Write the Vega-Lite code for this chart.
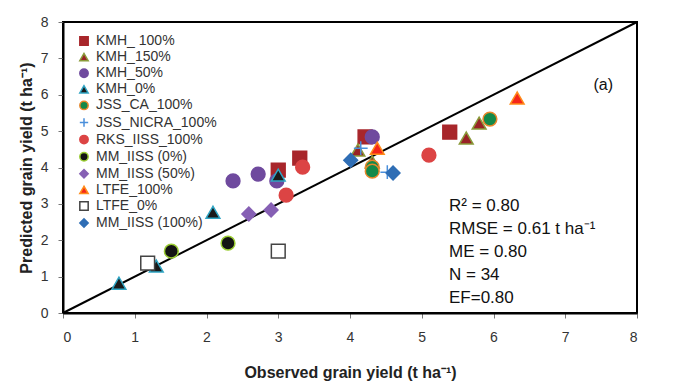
{
  "$schema": "https://vega.github.io/schema/vega-lite/v6.json",
  "width": 574,
  "height": 291,
  "autosize": {"type": "none"},
  "padding": {"left": 63, "top": 22, "right": 52, "bottom": 70},
  "background": "white",
  "config": {
    "font": "Liberation Sans",
    "view": {"stroke": "#000", "strokeWidth": 2},
    "axis": {"grid": false, "domainColor": "#000", "domainWidth": 2, "tickColor": "#777", "tickSize": 5, "labelFontSize": 14, "labelColor": "#333", "titleFontSize": 16, "titleFontWeight": "bold", "titleColor": "#222", "labelFont": "Liberation Sans", "titleFont": "Liberation Sans", "labelOverlap": false}
  },
  "datasets": {
    "pts": [
      {"series": "KMH_ 100%", "obs": 3.0, "pred": 3.93},
      {"series": "KMH_ 100%", "obs": 3.3, "pred": 4.26},
      {"series": "KMH_ 100%", "obs": 4.21, "pred": 4.84},
      {"series": "KMH_ 100%", "obs": 5.39, "pred": 4.97},
      {"series": "KMH_150%", "obs": 4.11, "pred": 4.48},
      {"series": "KMH_150%", "obs": 4.31, "pred": 4.15},
      {"series": "KMH_150%", "obs": 5.62, "pred": 4.81},
      {"series": "KMH_150%", "obs": 5.8, "pred": 5.22},
      {"series": "KMH_50%", "obs": 2.37, "pred": 3.63},
      {"series": "KMH_50%", "obs": 2.72, "pred": 3.82},
      {"series": "KMH_50%", "obs": 2.98, "pred": 3.63},
      {"series": "KMH_50%", "obs": 4.31, "pred": 4.84},
      {"series": "KMH_0%", "obs": 3.0, "pred": 3.79},
      {"series": "KMH_0%", "obs": 2.09, "pred": 2.77},
      {"series": "KMH_0%", "obs": 0.78, "pred": 0.82},
      {"series": "KMH_0%", "obs": 1.3, "pred": 1.29},
      {"series": "JSS_CA_100%", "obs": 4.31, "pred": 4.01},
      {"series": "JSS_CA_100%", "obs": 4.31, "pred": 3.9},
      {"series": "JSS_CA_100%", "obs": 5.95, "pred": 5.33},
      {"series": "JSS_NICRA_100%", "obs": 4.15, "pred": 4.53},
      {"series": "JSS_NICRA_100%", "obs": 4.52, "pred": 3.87},
      {"series": "RKS_IISS_100%", "obs": 3.34, "pred": 4.01},
      {"series": "RKS_IISS_100%", "obs": 3.11, "pred": 3.24},
      {"series": "RKS_IISS_100%", "obs": 5.1, "pred": 4.34},
      {"series": "MM_IISS (0%)", "obs": 1.51, "pred": 1.7},
      {"series": "MM_IISS (0%)", "obs": 2.3, "pred": 1.92},
      {"series": "MM_IISS (50%)", "obs": 2.59, "pred": 2.72},
      {"series": "MM_IISS (50%)", "obs": 2.9, "pred": 2.83},
      {"series": "LTFE_100%", "obs": 4.38, "pred": 4.53},
      {"series": "LTFE_100%", "obs": 6.33, "pred": 5.91},
      {"series": "LTFE_0%", "obs": 3.0, "pred": 1.7},
      {"series": "LTFE_0%", "obs": 1.18, "pred": 1.37},
      {"series": "MM_IISS (100%)", "obs": 4.01, "pred": 4.2},
      {"series": "MM_IISS (100%)", "obs": 4.6, "pred": 3.85}
    ],
    "line": [
      {"obs": 0, "pred": 0},
      {"obs": 8, "pred": 8}
    ]
  },
  "encoding": {
    "x": {"type": "quantitative", "scale": {"domain": [0, 8], "nice": false},
      "axis": {"values": [0, 1, 2, 3, 4, 5, 6, 7, 8], "labelOverlap": false, "format": "d", "title": "Observed grain yield (t ha⁻¹)", "labelPadding": 12, "titlePadding": 20}},
    "y": {"type": "quantitative", "scale": {"domain": [0, 8], "nice": false},
      "axis": {"values": [0, 1, 2, 3, 4, 5, 6, 7, 8], "labelOverlap": false, "labelBound": false, "format": "d", "title": "Predicted grain yield (t ha⁻¹)", "labelPadding": 10, "titlePadding": 6}}
  },
  "layer": [
    {
      "data": {"name": "line"},
      "mark": {"type": "line", "color": "#000", "strokeWidth": 2},
      "encoding": {
        "x": {"field": "obs", "type": "quantitative"},
        "y": {"field": "pred", "type": "quantitative"}
      }
    },
    {
      "data": {"name": "pts"},
      "mark": {"type": "point", "filled": false, "size": 190, "strokeWidth": 1.5, "opacity": 1},
      "encoding": {
        "x": {"field": "obs", "type": "quantitative"},
        "y": {"field": "pred", "type": "quantitative"},
        "shape": {
          "field": "series", "type": "nominal",
          "scale": {
            "domain": ["KMH_ 100%", "KMH_150%", "KMH_50%", "KMH_0%", "JSS_CA_100%", "JSS_NICRA_100%", "RKS_IISS_100%", "MM_IISS (0%)", "MM_IISS (50%)", "LTFE_100%", "LTFE_0%", "MM_IISS (100%)"],
            "range": ["square", "triangle-up", "circle", "triangle-up", "circle", "M -1 0 L 1 0 M 0 -1 L 0 1", "circle", "circle", "diamond", "triangle-up", "square", "diamond"]
          },
          "legend": {
            "title": null, "orient": "none", "legendX": 14, "legendY": 12, "padding": 0,
            "labelFontSize": 14, "labelColor": "#333", "labelFont": "Liberation Sans", "symbolSize": 70, "rowPadding": 1.1, "labelOffset": 5, "symbolStrokeWidth": 1.5, "labelLimit": 300
          }
        },
        "fill": {
          "field": "series", "type": "nominal",
          "scale": {
            "domain": ["KMH_ 100%", "KMH_150%", "KMH_50%", "KMH_0%", "JSS_CA_100%", "JSS_NICRA_100%", "RKS_IISS_100%", "MM_IISS (0%)", "MM_IISS (50%)", "LTFE_100%", "LTFE_0%", "MM_IISS (100%)"],
            "range": ["#A8262B", "#992226", "#6F4A9E", "#1A1A1A", "#13894A", "transparent", "#DC4444", "#141414", "#8660B4", "#F5261A", "#FFFFFF", "#2F6EB5"]
          },
          "legend": null
        },
        "stroke": {
          "field": "series", "type": "nominal",
          "scale": {
            "domain": ["KMH_ 100%", "KMH_150%", "KMH_50%", "KMH_0%", "JSS_CA_100%", "JSS_NICRA_100%", "RKS_IISS_100%", "MM_IISS (0%)", "MM_IISS (50%)", "LTFE_100%", "LTFE_0%", "MM_IISS (100%)"],
            "range": ["#A8262B", "#8A9A3A", "#6F4A9E", "#2FA5C4", "#E8872A", "#4A8FDB", "#DC4444", "#9ACD32", "#8660B4", "#FF8C1A", "#444444", "#2F6EB5"]
          },
          "legend": null
        }
      }
    },
    {
      "data": {"values": [{}]},
      "mark": {"type": "text", "align": "left", "baseline": "alphabetic", "fontSize": 17, "color": "#111", "lineHeight": 23, "font": "Liberation Sans",
        "text": ["R² = 0.80", "RMSE = 0.61 t ha⁻¹", "ME = 0.80", "N = 34", "EF=0.80"]},
      "encoding": {
        "x": {"datum": 5.38, "type": "quantitative"},
        "y": {"datum": 2.8, "type": "quantitative"}
      }
    },
    {
      "data": {"values": [{}]},
      "mark": {"type": "text", "align": "center", "baseline": "middle", "fontSize": 16, "color": "#111", "font": "Liberation Sans", "text": "(a)"},
      "encoding": {
        "x": {"datum": 7.53, "type": "quantitative"},
        "y": {"datum": 6.26, "type": "quantitative"}
      }
    }
  ]
}
